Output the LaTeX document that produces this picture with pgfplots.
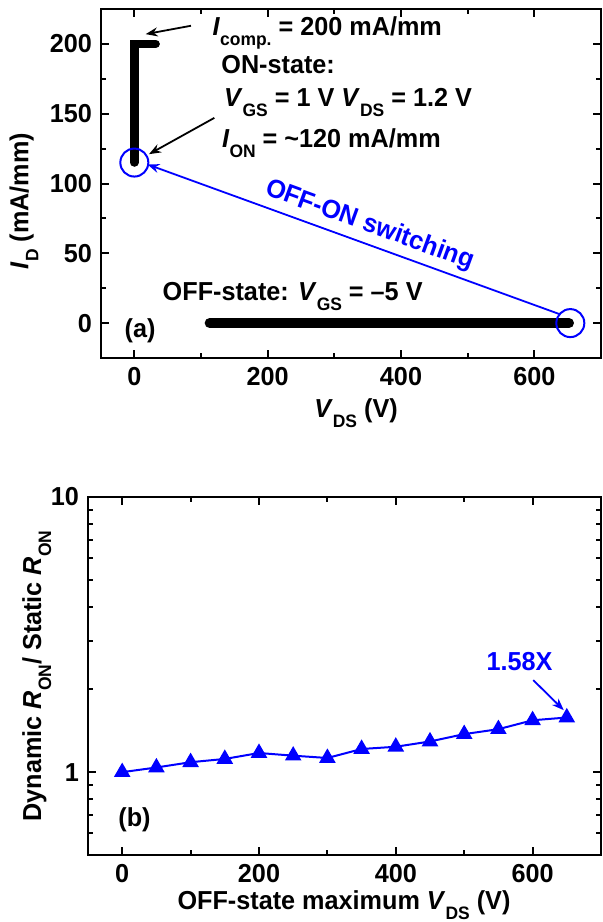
\documentclass[border=0pt]{standalone}
\usepackage{fontspec}
\setmainfont{Liberation Sans}[FakeStretch=0.97]
\usepackage{pgfplots}
\pgfplotsset{compat=1.18}
\usetikzlibrary{arrows.meta}

% lowered subscript, as in the original figure
\newcommand{\sub}[1]{\raisebox{-5pt}{\fontsize{9}{9}\selectfont #1}}

\tikzset{arr/.style={-{Stealth[length=6pt,width=4.5pt]}, line width=0.9pt}}

\pgfplotsset{
  panel/.style={
    scale only axis, clip=false,
    xmin=-50, xmax=700,
    xtick={0,200,400,600}, xticklabels={0,200,400,600},
    minor x tick num=1,
    tick align=inside, xtick pos=both, ytick pos=both,
    axis line style={line width=1.4pt},
    every tick/.append style={line width=1pt, black},
    major tick length=4pt, minor tick length=2.5pt,
  },
}

\begin{document}
\bfseries\fontsize{13}{15}\selectfont
\begin{tikzpicture}
% (a) switching trajectory
\begin{axis}[panel, at={(0,0)}, anchor=south west,
  width=250pt, height=174.5pt,
  ymin=-25, ymax=225,
  ytick={0,50,100,150,200}, yticklabels={0,50,100,150,200},
  minor y tick num=1,
  xlabel={\textit{V}\sub{DS} (V)},
  ylabel={\textit{I}\sub{D} (mA/mm)},
  every axis x label/.style={at={(axis description cs:0.51,-0.158)}, anchor=center},
  every axis y label/.style={at={(axis description cs:-0.154,0.45)}, rotate=90, anchor=center},
]
\addplot[black, line width=4.2pt, line cap=round] coordinates {(0,115) (0,200) (32,200)};
\addplot[black, line width=5pt, line cap=round] coordinates {(113,0) (652,0)};
\addplot[only marks, mark=o, blue, mark size=7pt, mark options={line width=1pt}] coordinates {(0,115) (654,0)};

\draw[arr, blue] (axis cs:638,6.4) -- (axis cs:19.6,113.7);
\draw[arr] (axis cs:85,213) -- (axis cs:17,207);
\draw[arr] (axis cs:120,147) -- (axis cs:22,121);

\node[anchor=base west, inner sep=0] at (axis cs:117,206) {\textit{I}\sub{comp.} = 200 mA/mm};
\node[anchor=base west, inner sep=0] at (axis cs:130,179) {ON-state:};
\node[anchor=base west, inner sep=0] at (axis cs:134,155) {\textit{V}\sub{GS} = 1 V \textit{V}\sub{DS} = 1.2 V};
\node[anchor=base west, inner sep=0] at (axis cs:131,125.6) {\textit{I}\sub{ON} = \textasciitilde120 mA/mm};
\node[anchor=base west, inner sep=0] at (axis cs:42,16) {OFF-state: \textit{V}\sub{GS} = --5 V};
\node[anchor=base west, inner sep=0] at (axis cs:-15,-10) {(a)};
\node[blue, rotate=-20, anchor=center] at (axis cs:353,70) {OFF-ON switching};
\end{axis}

% (b) dynamic on-resistance ratio
\begin{axis}[panel, at={(-6.5pt,-248.5pt)}, anchor=south west,
  width=256.5pt, height=179pt,
  ymode=log, ymin=0.5, ymax=10,
  ytick={1,10}, yticklabels={1,10},
  minor ytick={0.5,0.6,0.7,0.8,0.9,2,3,4,5,6,7,8,9},
  xlabel={OFF-state maximum \textit{V}\sub{DS} (V)},
  ylabel={Dynamic \textit{R}\sub{ON}/ Static \textit{R}\sub{ON}},
  every axis x label/.style={at={(axis description cs:0.499,-0.14)}, anchor=center},
  every axis y label/.style={at={(axis description cs:-0.1,0.5)}, rotate=90, anchor=center},
]
\addplot[blue, line width=1pt, mark=triangle*, mark size=3.8pt] coordinates {
  (0,1.0) (50,1.04) (100,1.087) (150,1.117) (200,1.174) (250,1.148) (300,1.126)
  (350,1.214) (400,1.237) (450,1.293) (500,1.375) (550,1.433) (600,1.544) (650,1.58)
};
\draw[arr, blue] (axis cs:601,2.16) -- (axis cs:645.6,1.68);
\node[blue, anchor=center] at (axis cs:581,2.52) {1.58X};
\node[anchor=center] at (axis cs:18,0.67) {(b)};
\end{axis}

\pgfresetboundingbox
\useasboundingbox (-50.5pt,-282pt) rectangle (251pt,179pt);
\end{tikzpicture}
\end{document}
